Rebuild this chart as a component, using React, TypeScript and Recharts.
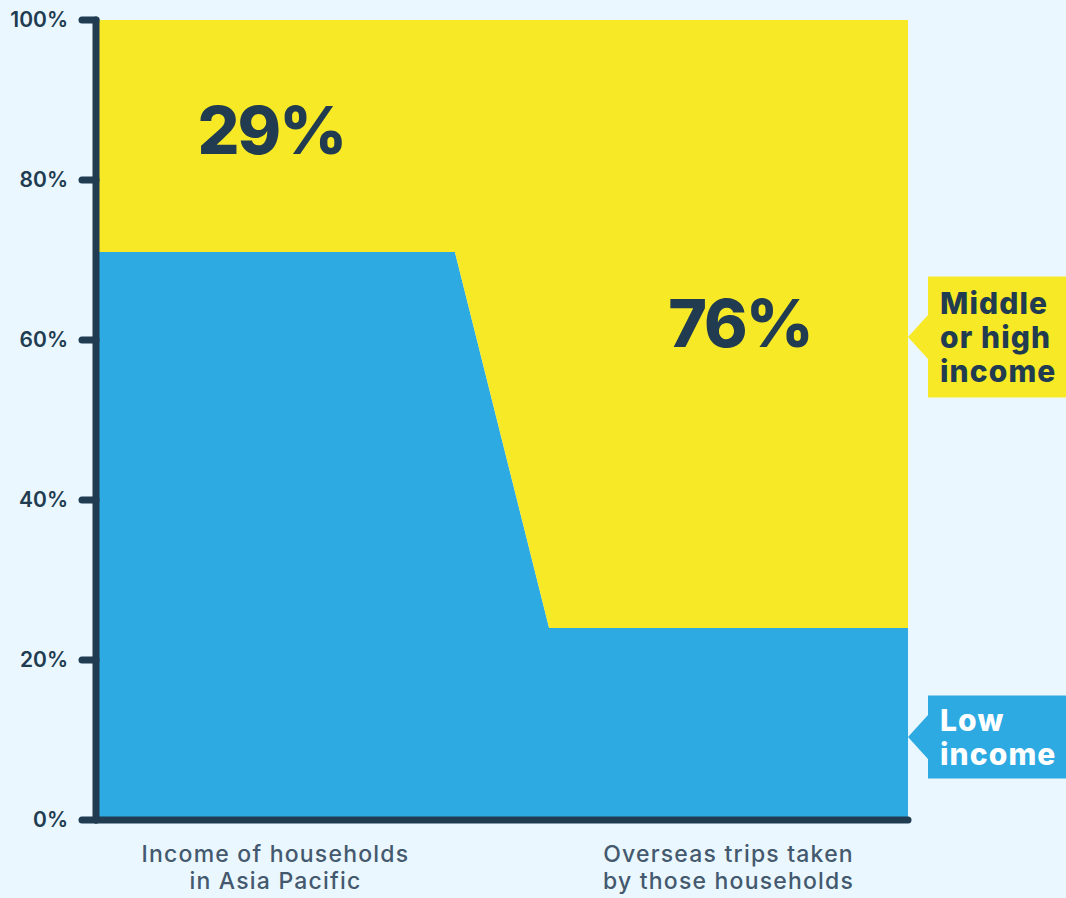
import React from 'react';
import { AreaChart, Area, XAxis, YAxis, ReferenceDot } from 'recharts';

const categoryLines: string[][] = [
  ['Income of households', 'in Asia Pacific'],
  ['Overseas trips taken', 'by those households'],
];
const lowIncome = [71, 24];
const middleOrHighIncome = [29, 76];
const segmentStart = [0, 55.8];
const segmentEnd = [44.2, 100];
const yTicks = [0, 20, 40, 60, 80, 100];
const shareLabelX = [21.6, 79.3];
const shareLabelY = [86.3, 62.1];
const highCalloutLines = ['Middle', 'or high', 'income'];
const lowCalloutLines = ['Low', 'income'];

const BG = '#EAF7FE';
const YELLOW = '#F7E926';
const BLUE = '#2EAAE2';
const NAVY = '#213B51';
const GREY = '#44596E';
const FONT = 'Inter, "Noto Sans", sans-serif';

const data = categoryLines.flatMap((_, i) => [
  { x: segmentStart[i], low: lowIncome[i], high: middleOrHighIncome[i] },
  { x: segmentEnd[i], low: lowIncome[i], high: middleOrHighIncome[i] },
]);
const tickPositions = segmentStart.map((s, i) => (s + segmentEnd[i]) / 2);

const XTick = (props: any) => {
  const { x, y, payload } = props;
  const idx = tickPositions.findIndex((t) => Math.abs(t - payload.value) < 0.01);
  const lines = categoryLines[idx] || [];
  return (
    <text x={x} y={y} textAnchor="middle" fill={GREY} fontFamily={FONT} fontSize={23} fontWeight={500} letterSpacing={1.2}>
      {lines.map((l, i) => (
        <tspan key={i} x={x} dy={i === 0 ? 42 : 27}>{l}</tspan>
      ))}
    </text>
  );
};

const BigLabel = (text: string) => (props: any) => {
  const { cx, cy } = props;
  return (
    <text x={cx} y={cy} dy={24} textAnchor="middle" fill={NAVY} fontFamily={FONT} fontSize={66} fontWeight={800} letterSpacing={-2}>
      {text}
    </text>
  );
};

const Callout = (lines: string[], bg: string, color: string, boxH: number) => (props: any) => {
  const { cx, cy } = props;
  const c = cy + 13;
  const left = cx + 20;
  const top = c - boxH / 2;
  const lh = 34;
  const firstBase = c - ((lines.length - 1) * lh) / 2 + 11;
  return (
    <g>
      <path
        d={`M${cx},${c} L${left},${c - 22} L${left},${top} L${left + 160},${top} L${left + 160},${top + boxH} L${left},${top + boxH} L${left},${c + 22} Z`}
        fill={bg}
      />
      <text x={left + 12} y={firstBase} fill={color} fontFamily={FONT} fontSize={30} fontWeight={800} letterSpacing={1.1}>
        {lines.map((l, i) => (
          <tspan key={i} x={left + 12} dy={i === 0 ? 0 : lh}>{l}</tspan>
        ))}
      </text>
    </g>
  );
};

export default function App() {
  const lastLow = lowIncome[lowIncome.length - 1];
  const lastHigh = middleOrHighIncome[middleOrHighIncome.length - 1];
  return (
    <div style={{ position: 'absolute', left: 0, top: 0, width: 1066, height: 898, background: BG, overflow: 'hidden' }}>
      <AreaChart width={1066} height={898} data={data} margin={{ top: 20, right: 158, bottom: 0, left: 0 }}>
        <Area
          type="linear"
          dataKey="low"
          stackId="s"
          stroke="none"
          fill={BLUE}
          fillOpacity={1}
          isAnimationActive={false}
          dot={false}
          activeDot={false}
        />
        <Area
          type="linear"
          dataKey="high"
          stackId="s"
          stroke="none"
          fill={YELLOW}
          fillOpacity={1}
          isAnimationActive={false}
          dot={false}
          activeDot={false}
        />
        <XAxis
          dataKey="x"
          type="number"
          domain={[0, 100]}
          ticks={tickPositions}
          tick={<XTick />}
          tickLine={false}
          tickSize={0}
          tickMargin={0}
          height={78}
          axisLine={{ stroke: NAVY, strokeWidth: 7, strokeLinecap: 'round' }}
          interval={0}
        />
        <YAxis
          type="number"
          domain={[0, 100]}
          ticks={yTicks}
          width={96}
          tickSize={14}
          tickMargin={14}
          tickFormatter={(v: number) => `${v}%`}
          tick={{ fill: NAVY, fontSize: 21, fontWeight: 600, fontFamily: FONT }}
          tickLine={{ stroke: NAVY, strokeWidth: 7, strokeLinecap: 'round' }}
          axisLine={{ stroke: NAVY, strokeWidth: 7, strokeLinecap: 'round' }}
          interval={0}
        />
        {middleOrHighIncome.map((v, i) => (
          <ReferenceDot
            key={`share-${i}`}
            x={shareLabelX[i]}
            y={shareLabelY[i]}
            r={0}
            ifOverflow="visible"
            shape={BigLabel(`${v}%`)}
          />
        ))}
        <ReferenceDot
          x={100}
          y={lastLow + lastHigh / 2}
          r={0}
          ifOverflow="visible"
          shape={Callout(highCalloutLines, YELLOW, NAVY, 121)}
        />
        <ReferenceDot
          x={100}
          y={lastLow / 2}
          r={0}
          ifOverflow="visible"
          shape={Callout(lowCalloutLines, BLUE, '#FFFFFF', 83)}
        />
      </AreaChart>
    </div>
  );
}
